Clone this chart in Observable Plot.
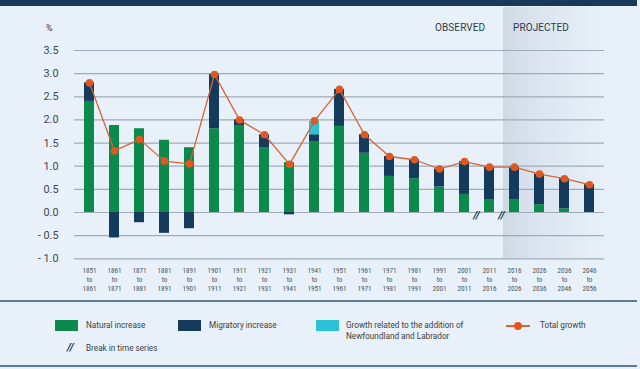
<!DOCTYPE html>
<html>
<head>
<meta charset="utf-8">
<script src="https://cdn.jsdelivr.net/npm/d3@7"></script>
<script src="https://cdn.jsdelivr.net/npm/@observablehq/plot@0.6"></script>
<style>
  html, body { margin: 0; padding: 0; background: #e8f1f9; }
  #wrap { position: relative; width: 640px; height: 369px; overflow: hidden; background: #e8f1f9; font-family: Roboto, "Open Sans", sans-serif; color: #333; }
  .abs { position: absolute; }
  .sw { position: absolute; width: 23px; height: 11px; }
  .lg { position: absolute; font-size: 8.2px; line-height: 11px; color: #3a3f45; white-space: nowrap; }
  #chart { position: absolute; left: 0; top: 0; }
</style>
</head>
<body>
<div id="wrap">
  <div class="abs" style="left:0;top:0;width:637px;height:6px;background:#17395b;"></div>
  <div class="abs" style="left:503px;top:7px;width:107px;height:251px;background:linear-gradient(to right,#cfd9e4 0%,#dbe4ee 30%,#e4edf6 75%,#e8f1f9 100%);"></div>
  <div id="chart"></div>
  <div class="abs" style="left:46px;top:23px;font-size:9px;color:#333;">%</div>
  <div class="abs" style="left:435px;top:22px;font-size:10px;letter-spacing:0.1px;color:#2f3a45;">OBSERVED</div>
  <div class="abs" style="left:513px;top:22px;font-size:10px;letter-spacing:0.1px;color:#2f3a45;">PROJECTED</div>
  <div class="abs" style="left:0;top:300px;width:637px;height:2px;background:#5f7b93;"></div>
  <div class="abs" style="left:0;top:365px;width:637px;height:2px;background:#5f7b93;"></div>
  <div id="legend"></div>
</div>
<script>
// ---- data ----
const starts = ["1851","1861","1871","1881","1891","1901","1911","1921","1931","1941","1951","1961","1971","1981","1991","2001","2011","2016","2026","2036","2046"];
const ends   = ["1861","1871","1881","1891","1901","1911","1921","1931","1941","1951","1961","1971","1981","1991","2001","2011","2016","2026","2036","2046","2056"];
const natural      = [2.40, 1.88, 1.81, 1.56, 1.40, 1.81, 1.88, 1.39, 1.08, 1.52, 1.86, 1.28, 0.78, 0.73, 0.55, 0.39, 0.28, 0.28, 0.17, 0.08, 0.00];
const migratory    = [0.40,-0.55,-0.22,-0.45,-0.35, 1.17, 0.12, 0.29,-0.05, 0.16, 0.80, 0.40, 0.43, 0.41, 0.39, 0.71, 0.70, 0.70, 0.66, 0.65, 0.60];
const newfoundland = [0, 0, 0, 0, 0, 0, 0, 0, 0, 0.29, 0, 0, 0, 0, 0, 0, 0, 0, 0, 0, 0];
const total        = [2.80, 1.33, 1.58, 1.11, 1.05, 2.98, 2.00, 1.68, 1.04, 1.98, 2.66, 1.68, 1.21, 1.14, 0.94, 1.10, 0.98, 0.98, 0.83, 0.73, 0.60];
const yTicks = [-1.0, -0.5, 0.0, 0.5, 1.0, 1.5, 2.0, 2.5, 3.0, 3.5];
const seriesNames = ["Natural increase", "Migratory increase", "Growth related to the addition of Newfoundland and Labrador"];
const seriesColors = ["#0b8a4b", "#143a5c", "#2bc2d6"];
const breakBefore = ["2011", "2016"];

const rows = [];
starts.forEach((p, i) => {
  rows.push({period: p, series: seriesNames[0], value: natural[i]});
  rows.push({period: p, series: seriesNames[1], value: migratory[i]});
  rows.push({period: p, series: seriesNames[2], value: newfoundland[i]});
});
const totals = starts.map((p, i) => ({period: p, total: total[i]}));

const chart = Plot.plot({
  width: 640,
  height: 300,
  marginTop: 50,
  marginBottom: 41.7,
  marginLeft: 74,
  marginRight: 36,
  style: {background: "transparent", fontFamily: "Roboto, 'Open Sans', sans-serif", overflow: "visible"},
  x: {type: "band", domain: starts, paddingInner: 0.6, paddingOuter: 0.3, label: null},
  y: {domain: [-1, 3.5], label: null},
  color: {domain: seriesNames, range: seriesColors},
  marks: [
    Plot.gridY(yTicks, {stroke: "#9eabb8", strokeOpacity: 1, strokeWidth: 1.2}),
    Plot.axisY(yTicks, {tickSize: 0, tickPadding: 16, fontSize: 10.8, fill: "#3b4654",
      tickFormat: d => d < 0 ? "- " + Math.abs(d).toFixed(1) : d.toFixed(1)}),
    Plot.axisX({tickSize: 0, tickPadding: 8, fontSize: 7.2, lineHeight: 1.25, fill: "#4a5561",
      fontFamily: "'Liberation Sans Narrow', 'Roboto Condensed', Roboto, sans-serif",
      tickFormat: d => d + "\nto\n" + ends[starts.indexOf(d)]}),
    Plot.barY(rows, {x: "period", y: "value", fill: "series", order: seriesNames}),
    Plot.line(totals, {x: "period", y: "total", stroke: "#d4643a", strokeWidth: 1.3}),
    Plot.dot(totals, {x: "period", y: "total", r: 3.8, fill: "#e0571f", stroke: "none"}),
    Plot.text(breakBefore, {x: d => d, y: () => 0, text: () => "//", dx: -13, dy: 3,
      fontSize: 11, fontStyle: "italic", fontWeight: "bold", fill: "#1d3a56"})
  ]
});
document.getElementById("chart").appendChild(chart);

// ---- legend ----
const legend = document.getElementById("legend");
const items = [
  {sw: 55, tx: 86, color: seriesColors[0], label: "Natural increase"},
  {sw: 178, tx: 209, color: seriesColors[1], label: "Migratory increase"},
  {sw: 316, tx: 346, color: seriesColors[2], label: "Growth related to the addition of<br>Newfoundland and Labrador"}
];
items.forEach(it => {
  const s = document.createElement("div");
  s.className = "sw";
  s.style.left = it.sw + "px"; s.style.top = "320px"; s.style.background = it.color;
  legend.appendChild(s);
  const t = document.createElement("div");
  t.className = "lg";
  t.style.left = it.tx + "px"; t.style.top = "320px";
  t.innerHTML = it.label;
  legend.appendChild(t);
});
const ln = document.createElement("div");
ln.className = "abs";
ln.style.cssText = "left:506px;top:325px;width:24px;height:1.5px;background:#d4643a;";
legend.appendChild(ln);
const dt = document.createElement("div");
dt.className = "abs";
dt.style.cssText = "left:514px;top:322px;width:8px;height:8px;border-radius:50%;background:#e0571f;";
legend.appendChild(dt);
const tg = document.createElement("div");
tg.className = "lg"; tg.style.left = "540px"; tg.style.top = "320px"; tg.textContent = "Total growth";
legend.appendChild(tg);
const br = document.createElement("div");
br.className = "abs";
br.style.cssText = "left:67px;top:341px;font-size:11px;font-style:italic;font-weight:bold;color:#1d3a56;";
br.textContent = "//";
legend.appendChild(br);
const bt = document.createElement("div");
bt.className = "lg"; bt.style.left = "86px"; bt.style.top = "343px"; bt.textContent = "Break in time series";
legend.appendChild(bt);
</script>
</body>
</html>
